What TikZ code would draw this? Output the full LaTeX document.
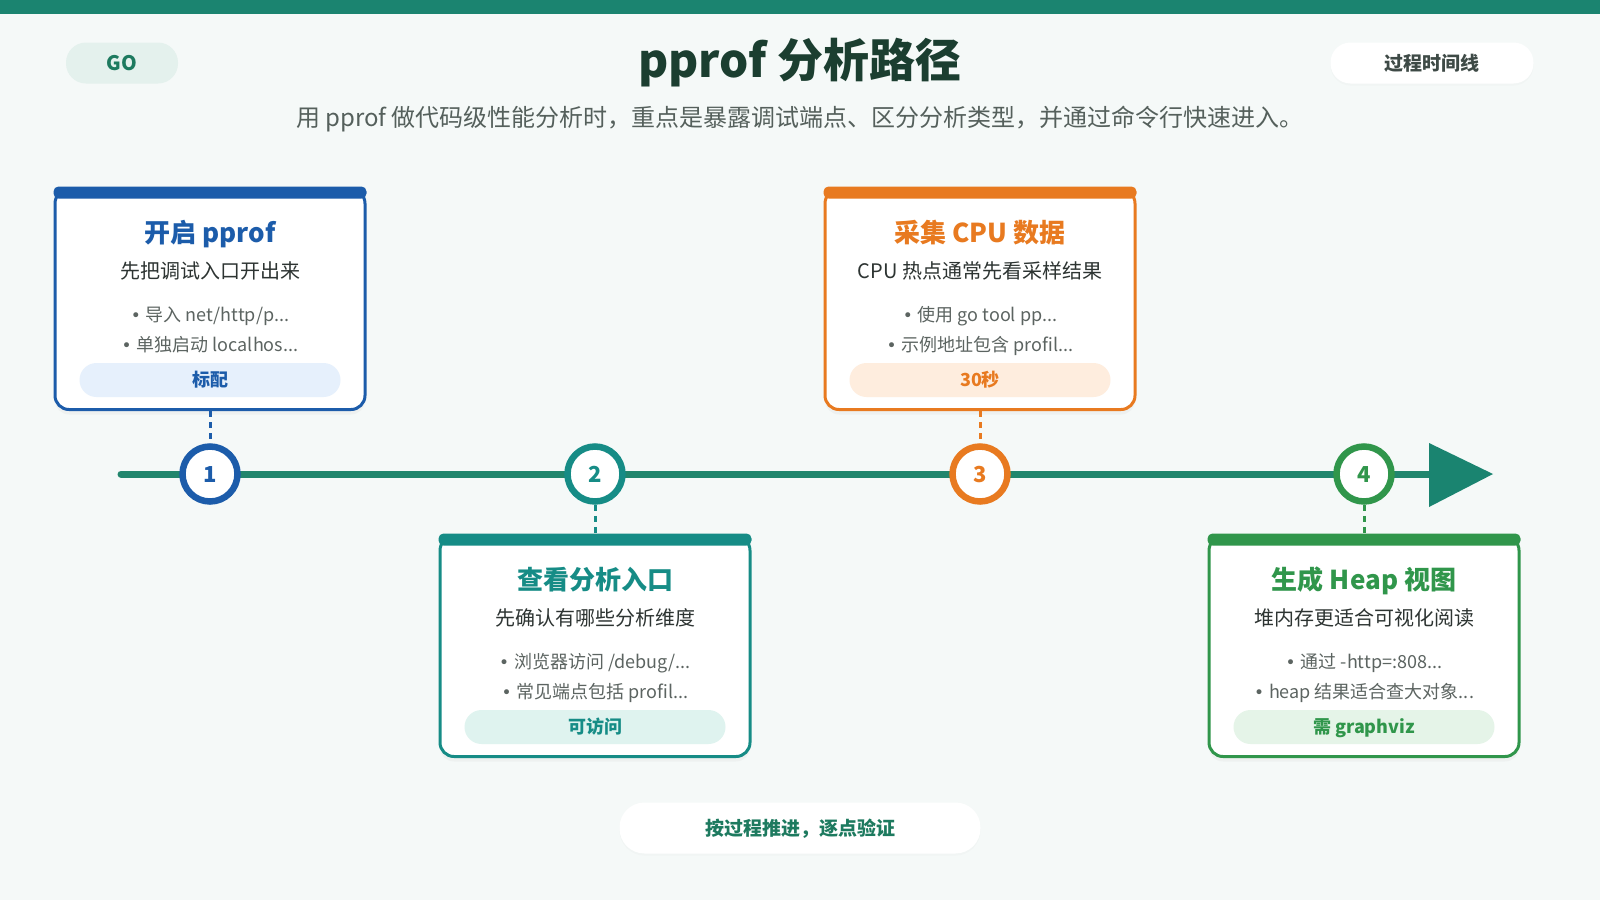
\documentclass[tikz,border=0pt]{standalone}
\usepackage{fontspec}
\setmainfont{Noto Sans CJK SC}
\newfontfamily\bulfont{DejaVu Sans}
\usetikzlibrary{shadows}
\definecolor{bg}{RGB}{245,249,248}
\definecolor{topbar}{RGB}{27,132,112}
\definecolor{tl}{RGB}{33,134,109}
\definecolor{tlhead}{RGB}{26,132,112}
\definecolor{cblue}{RGB}{28,92,170}
\definecolor{cblueT}{RGB}{230,240,252}
\definecolor{cteal}{RGB}{22,140,134}
\definecolor{ctealT}{RGB}{223,243,239}
\definecolor{corange}{RGB}{232,122,32}
\definecolor{corangeT}{RGB}{254,237,222}
\definecolor{cgreen}{RGB}{48,150,75}
\definecolor{cgreenT}{RGB}{229,244,232}
\definecolor{titlec}{RGB}{27,62,48}
\definecolor{subc}{RGB}{85,96,92}
\definecolor{darktext}{RGB}{45,52,50}
\definecolor{bullc}{RGB}{92,100,97}
\definecolor{gofill}{RGB}{228,241,237}
\definecolor{gotext}{RGB}{29,122,95}
\definecolor{pilltext}{RGB}{62,74,70}
\newcommand\bul{{\bulfont\fontsize{17}{17}\selectfont •}\hspace{5pt}}
\tikzset{
 card/.style={draw, line width=3pt, fill=white, rounded corners=14pt, minimum width=310pt, minimum height=220pt, inner sep=0pt, drop shadow={opacity=0.06, shadow xshift=0pt, shadow yshift=-5pt}},
 ctitle/.style={font=\bfseries\fontsize{26}{30}\selectfont, anchor=base, inner sep=0pt},
 csub/.style={font=\fontsize{20}{24}\selectfont, text=darktext, anchor=base, inner sep=0pt},
 cbul/.style={font=\fontsize{18}{21}\selectfont, text=bullc, anchor=base, inner sep=0pt},
 ctag/.style={rounded corners=17pt, minimum width=261pt, minimum height=34pt, inner sep=0pt, text height=15.5pt, text depth=2.5pt, font=\bfseries\fontsize{18}{22}\selectfont},
 dot/.style={circle, line width=6.5pt, fill=white, minimum size=55pt, inner sep=0pt, text height=16pt, text depth=0pt, font=\bfseries\fontsize{22}{22}\selectfont},
 link/.style={line width=3pt, dash pattern=on 6pt off 5pt},
 pill/.style={rounded corners=20pt, minimum height=41pt, inner sep=0pt},
}
\newcommand\tlcard[9]{%
 \node[card, draw=#4, anchor=north] (#1) at (#2,#3) {};
 \fill[#4, rounded corners=5pt] ([yshift=1.5pt]#1.north west) rectangle ([yshift=-10.5pt]#1.north east);
 \node[ctitle, text=#4] (#1-title) at ([yshift=-54pt]#1.north) {#5};
 \node[csub] (#1-sub) at ([yshift=-90pt]#1.north) {#6};
 \node[cbul] (#1-b1) at ([yshift=-133pt]#1.north) {\bul #7};
 \node[cbul] (#1-b2) at ([yshift=-163pt]#1.north) {\bul #8};
 \node[ctag, fill=#4T, text=#4] (#1-tag) at ([yshift=-192pt]#1.north) {#9};
}
\begin{document}
\begin{tikzpicture}[x=1pt,y=-1pt]
\useasboundingbox (0,0) rectangle (1600,900);
\fill[bg] (0,0) rectangle (1600,900);
\fill[topbar] (0,0) rectangle (1600,14);

% header
\node[pill, fill=gofill, minimum width=112pt, text=gotext, text height=14.5pt, text depth=0pt, font=\bfseries\fontsize{20}{22}\selectfont] (go) at (122,63) {GO};
\node[pill, fill=white, minimum width=203pt, text=pilltext, text height=16.5pt, text depth=2pt, font=\bfseries\fontsize{19}{22}\selectfont, drop shadow={opacity=0.03, shadow xshift=0pt, shadow yshift=-2pt}] (phase) at (1432,63) {过程时间线};
\node[anchor=base, inner sep=0pt, text=titlec, font=\bfseries\fontsize{46}{50}\selectfont] (title) at (800,77) {pprof 分析路径};
\node[anchor=base, inner sep=0pt, text=subc, font=\fontsize{24}{28}\selectfont] (subtitle) at (800,126) {用 pprof 做代码级性能分析时，重点是暴露调试端点、区分分析类型，并通过命令行快速进入。};

% timeline
\coordinate (tlstart) at (121,474);
\coordinate (tlend) at (1432,474);
\draw[tl, line width=7pt, line cap=round] (tlstart) -- (tlend);
\fill[tlhead] (1429,443) -- (1493,474) -- (1429,507) -- cycle;

\node[dot, draw=cblue, text=cblue] (n1) at (210,474) {1};
\node[dot, draw=cteal, text=cteal] (n2) at (595,474) {2};
\node[dot, draw=corange, text=corange] (n3) at (980,474) {3};
\node[dot, draw=cgreen, text=cgreen] (n4) at (1364,474) {4};

% cards
\tlcard{c1}{210}{188}{cblue}{开启 pprof}{先把调试入口开出来}{导入 net/http/p...}{单独启动 localhos...}{标配}
\tlcard{c2}{595}{535}{cteal}{查看分析入口}{先确认有哪些分析维度}{浏览器访问 /debug/...}{常见端点包括 profil...}{可访问}
\tlcard{c3}{980}{188}{corange}{采集 CPU 数据}{CPU 热点通常先看采样结果}{使用 go tool pp...}{示例地址包含 profil...}{30秒}
\tlcard{c4}{1364}{535}{cgreen}{生成 Heap 视图}{堆内存更适合可视化阅读}{通过 -http=:808...}{heap 结果适合查大对象...}{需 graphviz}

% connectors
\draw[link, cblue] (c1.south) -- (n1.north);
\draw[link, cteal] (n2.south) -- (c2.north);
\draw[link, corange] (c3.south) -- (n3.north);
\draw[link, cgreen] (n4.south) -- (c4.north);

% footer
\node[pill, fill=white, minimum width=361pt, minimum height=51pt, rounded corners=25pt, text=gotext, text height=16.5pt, text depth=2pt, font=\bfseries\fontsize{19}{22}\selectfont, drop shadow={opacity=0.03, shadow xshift=0pt, shadow yshift=-2pt}] (footer) at (800,828) {按过程推进，逐点验证};
\end{tikzpicture}
\end{document}
